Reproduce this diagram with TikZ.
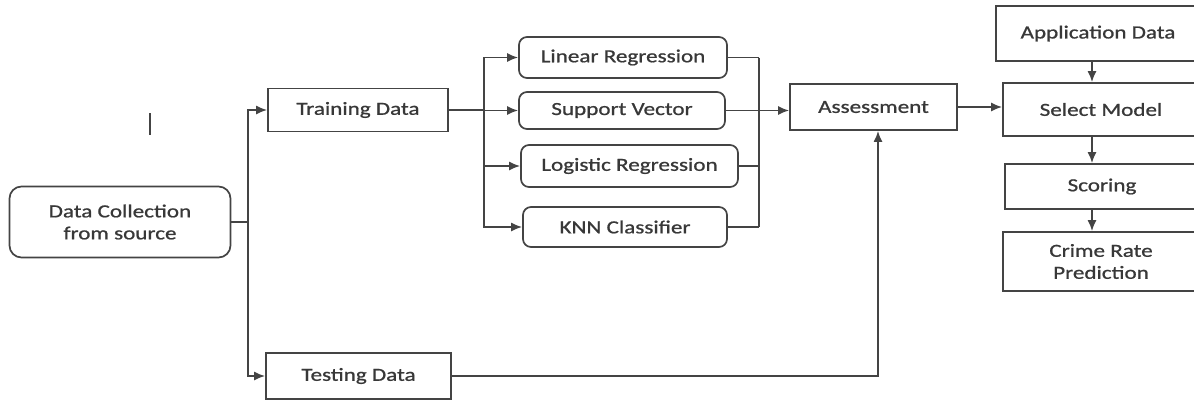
\documentclass[tikz,border=0pt]{standalone}
\usepackage{fontspec}
\setmainfont{Carlito}[FakeStretch=1.25, FakeBold=0.9]
\usetikzlibrary{arrows.meta}

\definecolor{inkline}{HTML}{444444}
\definecolor{inktext}{HTML}{383838}

\begin{document}
\begin{tikzpicture}[x=1pt, y=-1pt,
        stage/.style={draw=inkline, line width=1.7pt, text=inktext, inner sep=0pt, align=center,
            font=\fontsize{18.5}{22}\selectfont},
        model/.style={stage, rounded corners=8pt},
        link/.style={draw=inkline, line width=1.7pt},
        flow/.style={link, -{Latex[length=11pt,width=9pt]}}]
    \useasboundingbox (0,0) rectangle (1194,400);
    \clip (0,0) rectangle (1194,400);

    % data sources
    \node[model, rounded corners=12pt, minimum width=221pt, minimum height=71pt] (src) at (120,222) {Data Collection\\from source};
    \node[stage, minimum width=180pt, minimum height=43pt] (train) at (358,110) {Training Data};
    \node[stage, minimum width=185pt, minimum height=46pt] (test) at (358.5,376) {Testing Data};

    % the four learners
    \node[model, minimum width=208pt, minimum height=41pt] (lin) at (623,57.5) {Linear Regression};
    \node[model, minimum width=206pt, minimum height=37pt] (svm) at (622,110.5) {Support Vector};
    \node[model, minimum width=217pt, minimum height=42pt] (logr) at (629.5,166) {Logistic Regression};
    \node[model, minimum width=204pt, minimum height=40pt] (knn) at (625,227) {KNN Classifier};

    \node[stage, minimum width=167pt, minimum height=46pt] (assess) at (873.5,107) {Assessment};

    % deployment column
    \node[stage, minimum width=204pt, minimum height=55pt] (appd) at (1098,33.5) {Application Data};
    \node[stage, minimum width=196pt, minimum height=53pt] (select) at (1101,109.5) {Select Model};
    \node[stage, minimum width=194pt, minimum height=45pt] (score) at (1102,186.5) {Scoring};
    \node[stage, minimum width=196pt, minimum height=59pt] (crime) at (1101,261.5) {Crime Rate\\Prediction};

    \coordinate (split) at (248,0);
    \coordinate (fan) at (484,0);
    \coordinate (merge) at (759,0);
    \coordinate (spine) at (1092,0);

    % split into training / testing
    \draw[link] (src.east) -- (src.east -| split);
    \draw[flow] (src.east -| split) |- (train.west);
    \draw[flow] (src.east -| split) |- (test.west);

    % training data to every learner
    \draw[link] (train.east) -- (train.east -| fan);
    \foreach \m in {lin,svm,logr,knn}
        \draw[flow] (train.east -| fan) |- (\m.west);

    % learners back together
    \foreach \m in {lin,logr,knn}
        \draw[link] (\m.east) -- (\m.east -| merge);
    \draw[link] (lin.east -| merge) -- (knn.east -| merge);
    \draw[flow] (svm.east) -- (svm.east -| assess.west);

    \draw[flow] (test.east) -| ([xshift=4.5pt]assess.south);
    \draw[flow] (assess.east) -- (assess.east -| select.west);

    \draw[flow] (appd.south -| spine) -- (select.north -| spine);
    \draw[flow] (select.south -| spine) -- (score.north -| spine);
    \draw[flow] (score.south -| spine) -- (crime.north -| spine);

    % stray tick left of the training branch
    \draw[link, line width=1.8pt] (150,113) -- (150,135);
\end{tikzpicture}
\end{document}
